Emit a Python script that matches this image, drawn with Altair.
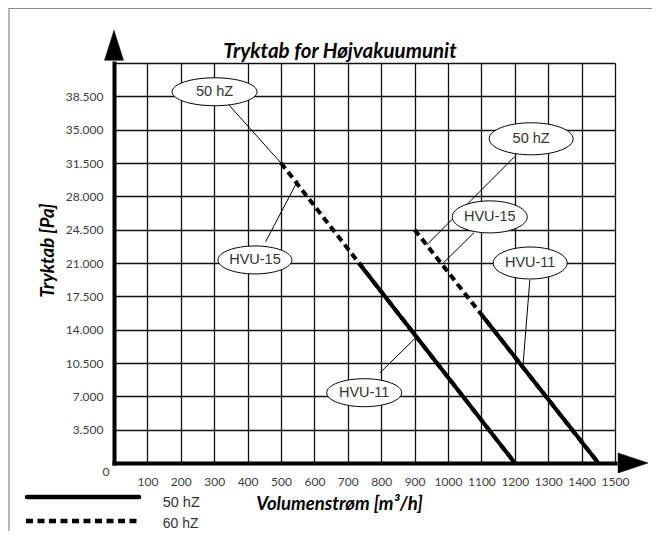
import altair as alt
import pandas as pd

# ---------------- data ----------------
X_TICKS = [100, 200, 300, 400, 500, 600, 700, 800, 900, 1000, 1100, 1200, 1300, 1400, 1500]
Y_TICKS = [0, 3500, 7000, 10500, 14000, 17500, 21000, 24500, 28000, 31500, 35000, 38500, 42000]

# 60 hZ (dashed) curves: start / end points
DASH_SEG = ["L", "L", "R", "R"]
DASH_X = [500, 1200, 900, 1450]
DASH_Y = [31500, 0, 24500, 0]

# 50 hZ (solid) curves
SOLID_SEG = ["L", "L", "R", "R"]
SOLID_X = [733, 1200, 1100, 1450]
SOLID_Y = [21000, 0, 15600, 0]

# callouts
CALLOUT_TEXT = ["50 hZ", "HVU-15", "HVU-11", "50 hZ", "HVU-15", "HVU-11"]
CALLOUT_X = [301, 422, 749, 1249, 1125, 1246]
CALLOUT_Y = [38980, 21320, 7380, 34040, 25840, 21000]
LEADER_X1 = [344, 454, 796, 1200, 1078, 1245]
LEADER_Y1 = [37600, 23240, 9460, 32180, 24190, 19210]
LEADER_X2 = [500, 551, 901, 936, 983, 1225]
LEADER_Y2 = [31500, 29710, 13080, 22890, 20900, 10450]

# axis arrow heads (data coordinates)
ARROW_X = [0, 1554]
ARROW_Y = [43860, 0]

TITLE = "Tryktab for Højvakuumunit"
LEGEND_LABELS = ["50 hZ", "60 hZ"]

# ---------------- styles ----------------
ELL_W = [85, 74, 75, 84, 75, 74]
ELL_H = [28, 28, 28, 32, 32, 32]
CAL_FONT = "Liberation Sans"
TICK_FONT = "Lato"
TICK_SIZE = 12
AX_TITLE_SIZE = 18.5


def ellipse_path(r):
    return f"M-1,0A1,{r:.3f},0,1,1,1,0A1,{r:.3f},0,1,1,-1,0Z"


dash_df = pd.DataFrame({"seg": DASH_SEG, "x": DASH_X, "y": DASH_Y})
solid_df = pd.DataFrame({"seg": SOLID_SEG, "x": SOLID_X, "y": SOLID_Y})
call_df = pd.DataFrame({
    "label": CALLOUT_TEXT, "x": CALLOUT_X, "y": CALLOUT_Y,
    "shape": [ellipse_path(h / w) for w, h in zip(ELL_W, ELL_H)],
    "sz": [w * w for w in ELL_W],
})
lead_df = pd.DataFrame({"x": LEADER_X1, "y": LEADER_Y1, "x2": LEADER_X2, "y2": LEADER_Y2})
arrow_df = pd.DataFrame({
    "x": ARROW_X, "y": ARROW_Y,
    "shape": ["M0,-1L0.633,1L-0.633,1Z", "M1,0L-1,0.667L-1,-0.667Z"],
})
zero_df = pd.DataFrame({"x": [0], "y": [0], "t": ["0"]})
one = pd.DataFrame({"a": [0]})

xscale = alt.Scale(domain=[0, 1500], nice=False, zero=False)
yscale = alt.Scale(domain=[0, 42000], nice=False, zero=False)

x_axis = alt.Axis(
    values=X_TICKS, tickCount=40, grid=True, gridColor="#111111", gridWidth=1.3,
    domainColor="black", domainWidth=4, domainCap="square", ticks=False,
    labelPadding=18, labelBaseline="middle", labelFont=TICK_FONT, labelFontSize=TICK_SIZE,
    labelColor="#404040", labelFlush=False, labelOverlap=False, format="d",
    title="Volumenstrøm [m³/h]", titleFont=TICK_FONT, titleFontSize=AX_TITLE_SIZE,
    titleFontStyle="italic", titleFontWeight="bold", titleColor="black",
    titleX=225, titleY=40, titleBaseline="middle", titleAlign="center",
)
y_axis = alt.Axis(
    values=Y_TICKS, tickCount=40, grid=True, gridColor="#111111", gridWidth=1.3,
    domainColor="black", domainWidth=4, domainCap="square", ticks=False,
    labelPadding=11, labelFont=TICK_FONT, labelFontSize=TICK_SIZE, labelColor="#404040",
    labelFlush=False, labelOverlap=False,
    labelExpr="(datum.value == 0 || datum.value == 42000) ? '' : replace(format(datum.value, ','), ',', '.')",
    title="Tryktab [Pa]", titleFont=TICK_FONT, titleFontSize=AX_TITLE_SIZE,
    titleFontStyle="italic", titleFontWeight="bold", titleColor="black",
    titleX=-67, titleY=187, titleAngle=270, titleBaseline="middle", titleAlign="center",
)

base_frame = alt.Chart(one).mark_rect(
    fill="white", fillOpacity=0, stroke="#8a8a8a", strokeWidth=1.2
).encode(x=alt.value(-105), y=alt.value(-54.5), x2=alt.value(560), y2=alt.value(500))

dashed = alt.Chart(dash_df).mark_line(
    color="black", strokeWidth=4, strokeDash=[7, 4.5], strokeCap="butt"
).encode(
    x=alt.X("x:Q", scale=xscale, axis=x_axis),
    y=alt.Y("y:Q", scale=yscale, axis=y_axis),
    detail="seg:N",
)
solid = alt.Chart(solid_df).mark_line(color="black", strokeWidth=4).encode(
    x=alt.X("x:Q", scale=xscale, axis=x_axis), y=alt.Y("y:Q", scale=yscale, axis=y_axis),
    detail="seg:N",
)
leaders = alt.Chart(lead_df).mark_rule(color="black", strokeWidth=1).encode(
    x=alt.X("x:Q", scale=xscale), y=alt.Y("y:Q", scale=yscale), x2="x2:Q", y2="y2:Q"
)
ellipses = alt.Chart(call_df).mark_point(
    filled=True, fill="white", stroke="black", strokeWidth=1, opacity=1
).encode(
    x=alt.X("x:Q", scale=xscale), y=alt.Y("y:Q", scale=yscale),
    shape=alt.Shape("shape:N", scale=None),
    size=alt.Size("sz:Q", scale=None),
)
call_text = alt.Chart(call_df).mark_text(
    font=CAL_FONT, fontSize=14.5, color="#333333", baseline="middle", align="center"
).encode(x=alt.X("x:Q", scale=xscale), y=alt.Y("y:Q", scale=yscale), text="label:N")

zero_lbl = alt.Chart(zero_df).mark_text(
    font=TICK_FONT, fontSize=TICK_SIZE, color="#404040", dx=-8, dy=9, align="center", baseline="middle"
).encode(x=alt.X("x:Q", scale=xscale), y=alt.Y("y:Q", scale=yscale), text="t:N")

arrows = alt.Chart(arrow_df).mark_point(
    filled=True, fill="black", stroke="black", strokeWidth=0.5, opacity=1, size=900
).encode(
    x=alt.X("x:Q", scale=xscale), y=alt.Y("y:Q", scale=yscale),
    shape=alt.Shape("shape:N", scale=None),
)

title_txt = alt.Chart(one).mark_text(
    text=TITLE, font=TICK_FONT, fontSize=20.5, fontStyle="italic", fontWeight="bold",
    color="black", align="center", baseline="alphabetic"
).encode(x=alt.value(226), y=alt.value(-4.7))

leg_solid = alt.Chart(one).mark_rule(color="black", strokeWidth=4.5, strokeCap="round").encode(
    x=alt.value(-87), x2=alt.value(25), y=alt.value(434)
)
leg_dash = alt.Chart(one).mark_rule(
    color="black", strokeWidth=4.5, strokeDash=[7, 4.5], strokeCap="butt"
).encode(x=alt.value(-88), x2=alt.value(27), y=alt.value(458))
leg_t1 = alt.Chart(one).mark_text(
    text=LEGEND_LABELS[0], font=CAL_FONT, fontSize=14.5, color="#333333", align="left", baseline="middle"
).encode(x=alt.value(48.7), y=alt.value(440))
leg_t2 = alt.Chart(one).mark_text(
    text=LEGEND_LABELS[1], font=CAL_FONT, fontSize=14, color="#333333", align="left", baseline="middle"
).encode(x=alt.value(48.7), y=alt.value(461))

chart = alt.layer(
    base_frame, dashed, solid, leaders, ellipses, call_text, zero_lbl, arrows,
    title_txt, leg_solid, leg_dash, leg_t1, leg_t2,
).properties(
    width=501, height=400,
    autosize=alt.AutoSizeParams(type="none"),
    padding={"left": 106, "top": 55, "right": 37, "bottom": 68},
).configure_view(stroke=None)

chart.save("out.html", embed_options={"renderer": "svg", "actions": False})
